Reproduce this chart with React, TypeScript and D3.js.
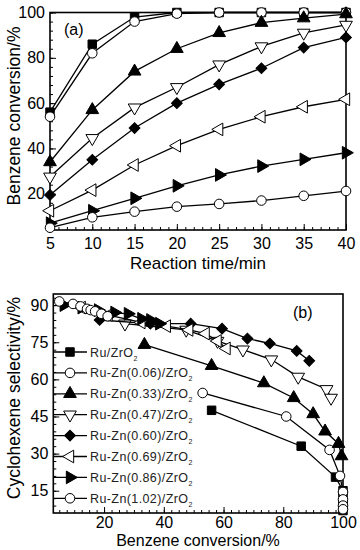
import { useRef, useEffect } from 'react';
import * as d3 from 'd3';

// reaction time (min) for panel (a)
const times = [5, 10, 15, 20, 25, 30, 35, 40];

const catalysts = [
  'Ru-Zn(0.06)/ZrO',
  'Ru-Zn(0.33)/ZrO',
  'Ru-Zn(0.47)/ZrO',
  'Ru-Zn(0.60)/ZrO',
  'Ru-Zn(0.69)/ZrO',
  'Ru-Zn(0.86)/ZrO',
  'Ru-Zn(1.02)/ZrO',
];
const legendNames = ['Ru/ZrO', ...catalysts];

// panel (a): benzene conversion (%) vs time
const convRu = [56, 86, 98, 100, 100, 100, 100, 100];
const conv006 = [54, 82, 96, 99.5, 100, 100, 100, 100];
const conv033 = [34, 57, 74, 84, 91, 95.5, 97.5, 99.3];
const conv047 = [27.5, 44.5, 58, 67, 77, 85, 91, 94.5];
const conv060 = [19.5, 35, 49, 60, 68.3, 75.4, 84.5, 89];
const conv069 = [12.5, 21.6, 32.7, 41.2, 48.4, 54, 58.4, 61.7];
const conv086 = [7, 12.5, 18, 23.5, 28.3, 32.2, 35.2, 38.1];
const conv102 = [5, 9.6, 12.1, 14.3, 15.5, 17, 19.1, 21.2];

// panel (b): conversion (%) and cyclohexene selectivity (%)
const bConvRu = [56, 86, 97.5, 100, 100, 100, 100, 100];
const bSelRu = [47.5, 33, 20.5, 15, 12, 10, 8.5, 7];
const bConv006 = [53, 81, 95.5, 99, 100, 100, 100, 100];
const bSel006 = [54.5, 45, 31.5, 21, 14.5, 11.5, 9, 7.5];
const bConv033 = [33.5, 56, 73.5, 83.5, 90, 94, 98.5, 99.5];
const bSel033 = [74, 65.5, 58.5, 52.5, 46, 39, 34, 29];
const bConv047 = [27, 47.5, 58, 66.5, 76, 85, 94.5, 96];
const bSel047 = [82.5, 80, 75.5, 72, 68, 61, 56, 52.5];
const bConv060 = [18.5, 35.5, 49, 59.5, 68, 75.5, 84.5, 88.7];
const bSel060 = [84, 82.5, 82.5, 80.5, 76.5, 74.5, 71.5, 67.5];
const bConv069 = [12.5, 21.5, 32.5, 41, 48.5, 54, 58, 61];
const bSel069 = [89, 86, 83, 81.5, 80, 78.5, 75.5, 72.5];
const bConv086 = [6.5, 12.5, 18, 23.5, 28, 32.5, 35.5, 38.5];
const bSel086 = [90, 89, 88, 87, 86.5, 84.5, 84, 82.5];
const bConv102 = [5, 9.6, 12.1, 14.3, 15.5, 17, 19.1, 21.2];
const bSel102 = [91.5, 90.5, 89.5, 88.5, 88, 87.5, 86.5, 85.5];

const topTicksX = [5, 10, 15, 20, 25, 30, 35, 40];
const topTicksY = [20, 40, 60, 80, 100];
const botTicksX = [20, 40, 60, 80, 100];
const botTicksY = [15, 30, 45, 60, 75, 90];

type Mk = { shape: d3.SymbolType; rot: number; fill: boolean; size: number };
const markers: Mk[] = [
  { shape: d3.symbolSquare, rot: 0, fill: true, size: 72 },
  { shape: d3.symbolCircle, rot: 0, fill: false, size: 72 },
  { shape: d3.symbolTriangle, rot: 0, fill: true, size: 70 },
  { shape: d3.symbolTriangle, rot: 180, fill: false, size: 70 },
  { shape: d3.symbolSquare, rot: 45, fill: true, size: 58 },
  { shape: d3.symbolTriangle, rot: -90, fill: false, size: 70 },
  { shape: d3.symbolTriangle, rot: 90, fill: true, size: 70 },
  { shape: d3.symbolCircle, rot: 0, fill: false, size: 72 },
];

const FONT = "'Liberation Sans', Arial, sans-serif";

const App = () => {
  const ref = useRef<SVGSVGElement>(null);

  useEffect(() => {
    if (!ref.current) return;
    const svg = d3.select(ref.current);
    svg.selectAll('*').remove();
    svg.attr('font-family', FONT);

    const drawPanel = (
      x: d3.ScaleLinear<number, number>,
      y: d3.ScaleLinear<number, number>,
      xt: number[],
      yt: number[],
      xMinor: number[],
      yMinor: number[],
      xPad: number,
    ) => {
      const [x0, x1] = x.range();
      const [y0, y1] = y.range();
      const g = svg.append('g');
      // minor ticks
      g.append('g')
        .attr('transform', `translate(0,${y0})`)
        .call(d3.axisBottom(x).tickValues(xMinor).tickSize(-3).tickFormat(() => ''))
        .call((s) => s.select('.domain').remove());
      g.append('g')
        .attr('transform', `translate(${x0},0)`)
        .call(d3.axisLeft(y).tickValues(yMinor).tickSize(-3).tickFormat(() => ''))
        .call((s) => s.select('.domain').remove());
      // major ticks + labels
      g.append('g')
        .attr('transform', `translate(0,${y0})`)
        .call(d3.axisBottom(x).tickValues(xt).tickSize(-6).tickPadding(xPad))
        .call((s) => s.select('.domain').remove())
        .selectAll('text')
        .attr('font-size', 16)
        .attr('font-family', FONT)
        .attr('fill', '#000');
      g.append('g')
        .attr('transform', `translate(${x0},0)`)
        .call(d3.axisLeft(y).tickValues(yt).tickSize(-6).tickPadding(5))
        .call((s) => s.select('.domain').remove())
        .selectAll('text')
        .attr('font-size', 16)
        .attr('font-family', FONT)
        .attr('fill', '#000');
      g.selectAll('.tick line').attr('stroke', '#000').attr('stroke-width', 1);
      g.append('rect')
        .attr('x', x0)
        .attr('y', y1)
        .attr('width', x1 - x0)
        .attr('height', y0 - y1)
        .attr('fill', 'none')
        .attr('stroke', '#000')
        .attr('stroke-width', 1.6);
    };

    const drawSeries = (
      x: d3.ScaleLinear<number, number>,
      y: d3.ScaleLinear<number, number>,
      xs: number[],
      ys: number[],
      mk: Mk,
    ) => {
      const pts = xs.map((v, i) => [x(v), y(ys[i])] as [number, number]);
      svg
        .append('path')
        .attr('d', d3.line()(pts))
        .attr('fill', 'none')
        .attr('stroke', '#000')
        .attr('stroke-width', 1.3);
      const sym = d3.symbol(mk.shape, mk.size);
      svg
        .append('g')
        .selectAll('path')
        .data(pts)
        .join('path')
        .attr('d', sym)
        .attr('transform', (p) => `translate(${p[0]},${p[1]}) rotate(${mk.rot})`)
        .attr('fill', mk.fill ? '#000' : '#fff')
        .attr('stroke', '#000')
        .attr('stroke-width', 1);
    };

    // ---------- panel (a)
    const xa = d3.scaleLinear().domain([5, 40]).range([50, 346]);
    const ya = d3.scaleLinear().domain([4, 100]).range([230, 12.5]);
    drawPanel(xa, ya, topTicksX, topTicksY, d3.range(5, 41, 1), d3.range(4, 101, 4), 7.5);
    const topSeries = [convRu, conv006, conv033, conv047, conv060, conv069, conv086, conv102];
    topSeries.forEach((s, i) => drawSeries(xa, ya, times, s, markers[i]));

    svg.append('text').attr('x', 64).attr('y', 35).attr('font-size', 16).text('(a)');
    svg
      .append('text')
      .attr('x', 198)
      .attr('y', 269)
      .attr('text-anchor', 'middle')
      .attr('font-size', 17)
      .text('Reaction time/min');
    svg
      .append('text')
      .attr('transform', 'translate(20,116) rotate(-90)')
      .attr('text-anchor', 'middle')
      .attr('font-size', 17.5)
      .text('Benzene conversion/%');

    // ---------- panel (b)
    const xb = d3.scaleLinear().domain([3, 100]).range([53.3, 343]);
    const yb = d3.scaleLinear().domain([6, 94.5]).range([513, 294]);
    drawPanel(xb, yb, botTicksX, botTicksY, d3.range(5, 101, 2.5), d3.range(9, 94, 3), 3.5);

    // legend
    legendNames.forEach((name, i) => {
      const ly = 352 + i * 20.9;
      svg
        .append('line')
        .attr('x1', 53.3)
        .attr('x2', 87)
        .attr('y1', ly)
        .attr('y2', ly)
        .attr('stroke', '#000')
        .attr('stroke-width', 1.3);
      const mk = markers[i];
      svg
        .append('path')
        .attr('d', d3.symbol(mk.shape, mk.size)())
        .attr('transform', `translate(70,${ly}) rotate(${mk.rot})`)
        .attr('fill', mk.fill ? '#000' : '#fff')
        .attr('stroke', '#000');
      const t = svg
        .append('text')
        .attr('x', 90)
        .attr('y', ly + 4.5)
        .attr('font-size', 12.5)
        .attr('letter-spacing', 0.4)
        .attr('fill', '#222')
        .text(name);
      t.append('tspan').attr('font-size', 7).attr('dy', 4).text('2');
    });

    const botSeries: [number[], number[]][] = [
      [bConvRu, bSelRu],
      [bConv006, bSel006],
      [bConv033, bSel033],
      [bConv047, bSel047],
      [bConv060, bSel060],
      [bConv069, bSel069],
      [bConv086, bSel086],
      [bConv102, bSel102],
    ];
    botSeries.forEach(([cx, sy], i) => drawSeries(xb, yb, cx, sy, markers[i]));

    svg.append('text').attr('x', 293).attr('y', 318).attr('font-size', 16).text('(b)');
    svg
      .append('text')
      .attr('x', 198)
      .attr('y', 546)
      .attr('text-anchor', 'middle')
      .attr('font-size', 16)
      .text('Benzene conversion/%');
    svg
      .append('text')
      .attr('transform', 'translate(20,398) rotate(-90)')
      .attr('text-anchor', 'middle')
      .attr('font-size', 17.5)
      .text('Cyclohexene selectivity/%');
  }, []);

  return (
    <svg
      ref={ref}
      width={360}
      height={550}
      style={{ position: 'absolute', left: 0, top: 0, background: '#fff' }}
    />
  );
};

export default App;
